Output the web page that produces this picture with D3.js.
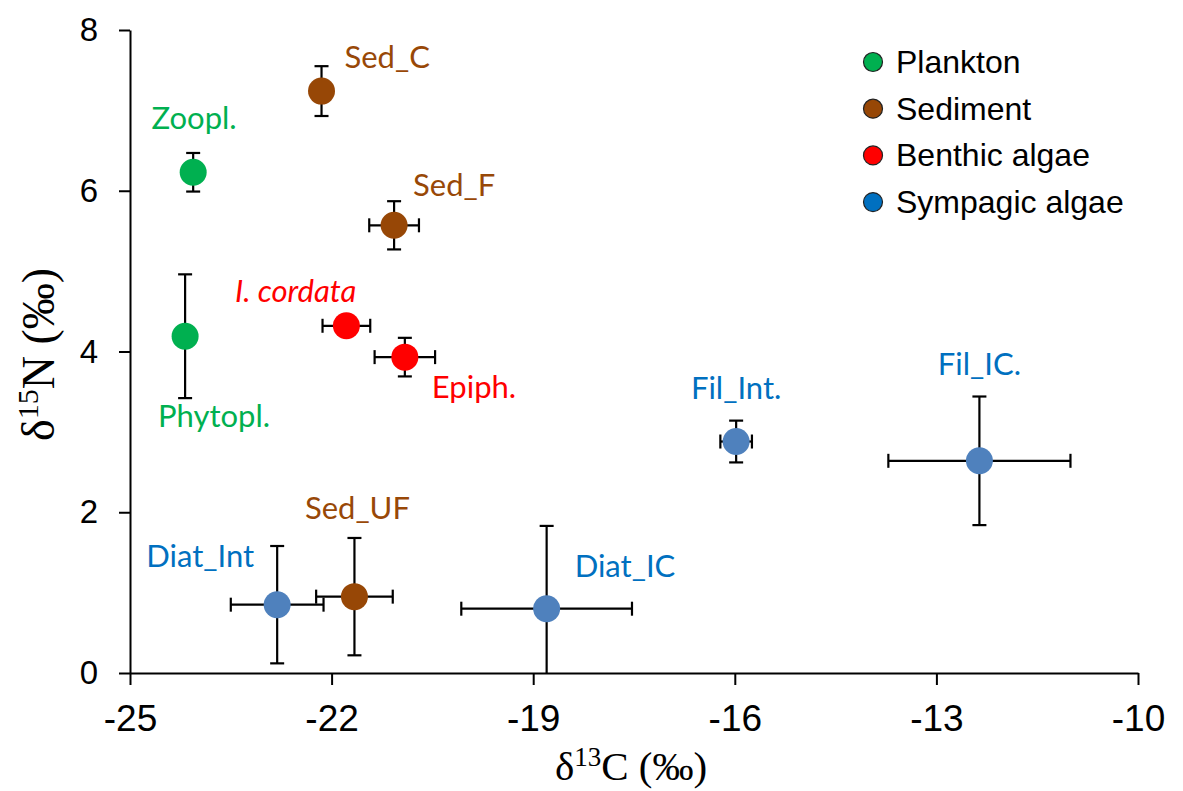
<!DOCTYPE html>
<html>
<head>
<meta charset="utf-8">
<script src="https://cdn.jsdelivr.net/npm/d3@7"></script>
<style>
  body { margin: 0; background: #fff; }
  .axis path, .axis line { stroke: #000; stroke-width: 2px; }
  .axis text { font-family: Arial, "Liberation Sans", sans-serif; fill: #000; }
  .x.axis text { font-size: 37px; }
  .y.axis text { font-size: 33px; }
</style>
</head>
<body>
<div id="chart"></div>
<script>
(function() {
  // data
  var names  = ['Zoopl.', 'Phytopl.', 'Sed_C', 'Sed_F', 'Sed_UF', 'I. cordata', 'Epiph.',
                'Fil_Int.', 'Fil_IC.', 'Diat_Int', 'Diat_IC'];
  var groups = ['Plankton', 'Plankton', 'Sediment', 'Sediment', 'Sediment', 'Benthic algae', 'Benthic algae',
                'Sympagic algae', 'Sympagic algae', 'Sympagic algae', 'Sympagic algae'];
  var d13C   = [-24.06, -24.18, -22.15, -21.07, -21.66, -21.78, -20.91, -15.98, -12.36, -22.81, -18.80];
  var d15N   = [6.23, 4.19, 7.24, 5.57, 0.95, 4.32, 3.93, 2.88, 2.64, 0.85, 0.80];
  var errC   = [0.1, 0.1, 0.1, 0.37, 0.57, 0.355, 0.45, 0.235, 1.355, 0.69, 1.27];
  var errN   = [0.24, 0.77, 0.31, 0.30, 0.73, 0.1, 0.24, 0.26, 0.80, 0.73, 1.03];
  var legendGroups = ['Plankton', 'Sediment', 'Benthic algae', 'Sympagic algae'];
  var xTicks = [-25, -22, -19, -16, -13, -10];
  var yTicks = [0, 2, 4, 6, 8];

  // styling
  var markerColor = { 'Plankton': '#00b050', 'Sediment': '#974706', 'Benthic algae': '#ff0000', 'Sympagic algae': '#4f81bd' };
  var legendColor = { 'Plankton': '#00b050', 'Sediment': '#974706', 'Benthic algae': '#ff0000', 'Sympagic algae': '#0070c0' };
  var labelColor  = { 'Plankton': '#00b050', 'Sediment': '#984807', 'Benthic algae': '#ff0000', 'Sympagic algae': '#0070c0' };

  // label offsets in pixels from the marker centre
  var labelPos = {
    'Zoopl.':     { dx: 1,    dy: -43,  anchor: 'middle' },
    'Phytopl.':   { dx: -27,  dy: 91,   anchor: 'start' },
    'Sed_C':      { dx: 23,   dy: -23,  anchor: 'start' },
    'Sed_F':      { dx: 19,   dy: -29,  anchor: 'start' },
    'Sed_UF':     { dx: 3,    dy: -78,  anchor: 'middle' },
    'I. cordata': { dx: 10,   dy: -24,  anchor: 'end' },
    'Epiph.':     { dx: 27,   dy: 41,   anchor: 'start' },
    'Fil_Int.':   { dx: 0,    dy: -43,  anchor: 'middle' },
    'Fil_IC.':    { dx: 0,    dy: -86,  anchor: 'middle' },
    'Diat_Int':   { dx: -23,  dy: -38,  anchor: 'end' },
    'Diat_IC':    { dx: 28,   dy: -32,  anchor: 'start' }
  };

  var data = names.map(function(n, i) {
    return { name: n, group: groups[i], c: d13C[i], n: d15N[i], ec: errC[i], en: errN[i] };
  });

  function translate(x, y) {
    return 'translate(' + x + ',' + y + ')';
  }

  var W = 1183, H = 791,
      margin = { top: 30, right: 45, bottom: 118, left: 130 },
      width = W - margin.left - margin.right,
      height = H - margin.top - margin.bottom,
      x = d3.scaleLinear().domain([-25, -10]).range([0, width]),
      y = d3.scaleLinear().domain([0, 8]).range([height, 0]),
      r = 13.5,
      cap = 7;

  var svg = d3.select('#chart')
    .append('svg')
      .attr('width', W)
      .attr('height', H)
    .append('g')
      .attr('transform', translate(margin.left, margin.top));

  var xAxis = d3.axisBottom(x)
      .tickValues(xTicks)
      .tickFormat(function(d) { return String(d); })
      .tickSize(12)
      .tickSizeOuter(0)
      .tickPadding(20);

  var yAxis = d3.axisLeft(y)
      .tickValues(yTicks)
      .tickFormat(function(d) { return String(d); })
      .tickSize(11)
      .tickSizeOuter(0)
      .tickPadding(21);

  svg.append('g')
    .attr('class', 'x axis')
    .attr('transform', translate(0, height))
    .call(xAxis);

  svg.append('g')
    .attr('class', 'y axis')
    .call(yAxis);

  // error bars
  var bars = svg.append('g')
      .attr('stroke', '#000')
      .attr('stroke-width', 2.2)
      .attr('fill', 'none');

  data.forEach(function(d) {
    var cx = x(d.c), cy = y(d.n);
    var x0 = x(d.c - d.ec), x1 = x(d.c + d.ec);
    var lowN = Math.max(0, d.n - d.en);
    var y0 = y(d.n + d.en), y1 = y(lowN);
    bars.append('line').attr('x1', x0).attr('x2', x1).attr('y1', cy).attr('y2', cy);
    bars.append('line').attr('x1', x0).attr('x2', x0).attr('y1', cy - cap).attr('y2', cy + cap);
    bars.append('line').attr('x1', x1).attr('x2', x1).attr('y1', cy - cap).attr('y2', cy + cap);
    bars.append('line').attr('x1', cx).attr('x2', cx).attr('y1', y0).attr('y2', y1);
    bars.append('line').attr('x1', cx - cap).attr('x2', cx + cap).attr('y1', y0).attr('y2', y0);
    if (lowN > 0) {
      bars.append('line').attr('x1', cx - cap).attr('x2', cx + cap).attr('y1', y1).attr('y2', y1);
    }
  });

  // markers
  svg.append('g')
    .selectAll('circle')
    .data(data)
    .enter().append('circle')
      .attr('cx', function(d) { return x(d.c); })
      .attr('cy', function(d) { return y(d.n); })
      .attr('r', r)
      .attr('fill', function(d) { return markerColor[d.group]; });

  // point labels
  svg.append('g')
    .selectAll('text')
    .data(data)
    .enter().append('text')
      .attr('x', function(d) { return x(d.c) + labelPos[d.name].dx; })
      .attr('y', function(d) { return y(d.n) + labelPos[d.name].dy; })
      .attr('text-anchor', function(d) { return labelPos[d.name].anchor; })
      .attr('font-family', 'Lato, "Open Sans", sans-serif')
      .attr('font-size', 31)
      .attr('font-style', function(d) { return d.name === 'I. cordata' ? 'italic' : 'normal'; })
      .attr('fill', function(d) { return labelColor[d.group]; })
      .text(function(d) { return d.name; });

  // legend
  var legend = svg.append('g')
      .attr('transform', translate(743, 32));

  var rows = legend.selectAll('g')
    .data(legendGroups)
    .enter().append('g')
      .attr('transform', function(d, i) { return translate(0, i * 46.7); });

  rows.append('circle')
    .attr('r', 9.5)
    .attr('fill', function(d) { return legendColor[d]; })
    .attr('stroke', '#222')
    .attr('stroke-width', 1.2);

  rows.append('text')
    .attr('x', 23)
    .attr('y', 11)
    .attr('font-family', 'Arial, "Liberation Sans", sans-serif')
    .attr('font-size', 32)
    .attr('fill', '#000')
    .text(function(d) { return d; });

  // axis titles
  var xTitle = svg.append('text')
      .attr('x', width / 2 - 3)
      .attr('y', height + 107)
      .attr('text-anchor', 'middle')
      .attr('font-family', '"Liberation Serif", "Times New Roman", serif')
      .attr('font-size', 41)
      .attr('fill', '#000');
  xTitle.append('tspan').text('δ');
  xTitle.append('tspan').attr('font-size', 27).attr('dy', -14).text('13');
  xTitle.append('tspan').attr('dy', 14).text('C (‰)');

  var yTitle = svg.append('text')
      .attr('transform', translate(-76, height / 2 + 3) + ' rotate(-90)')
      .attr('text-anchor', 'middle')
      .attr('font-family', '"Liberation Serif", "Times New Roman", serif')
      .attr('font-size', 46)
      .attr('fill', '#000');
  yTitle.append('tspan').text('δ');
  yTitle.append('tspan').attr('font-size', 30).attr('dy', -16).text('15');
  yTitle.append('tspan').attr('dy', 16).text('N (‰)');
})();
</script>
</body>
</html>
